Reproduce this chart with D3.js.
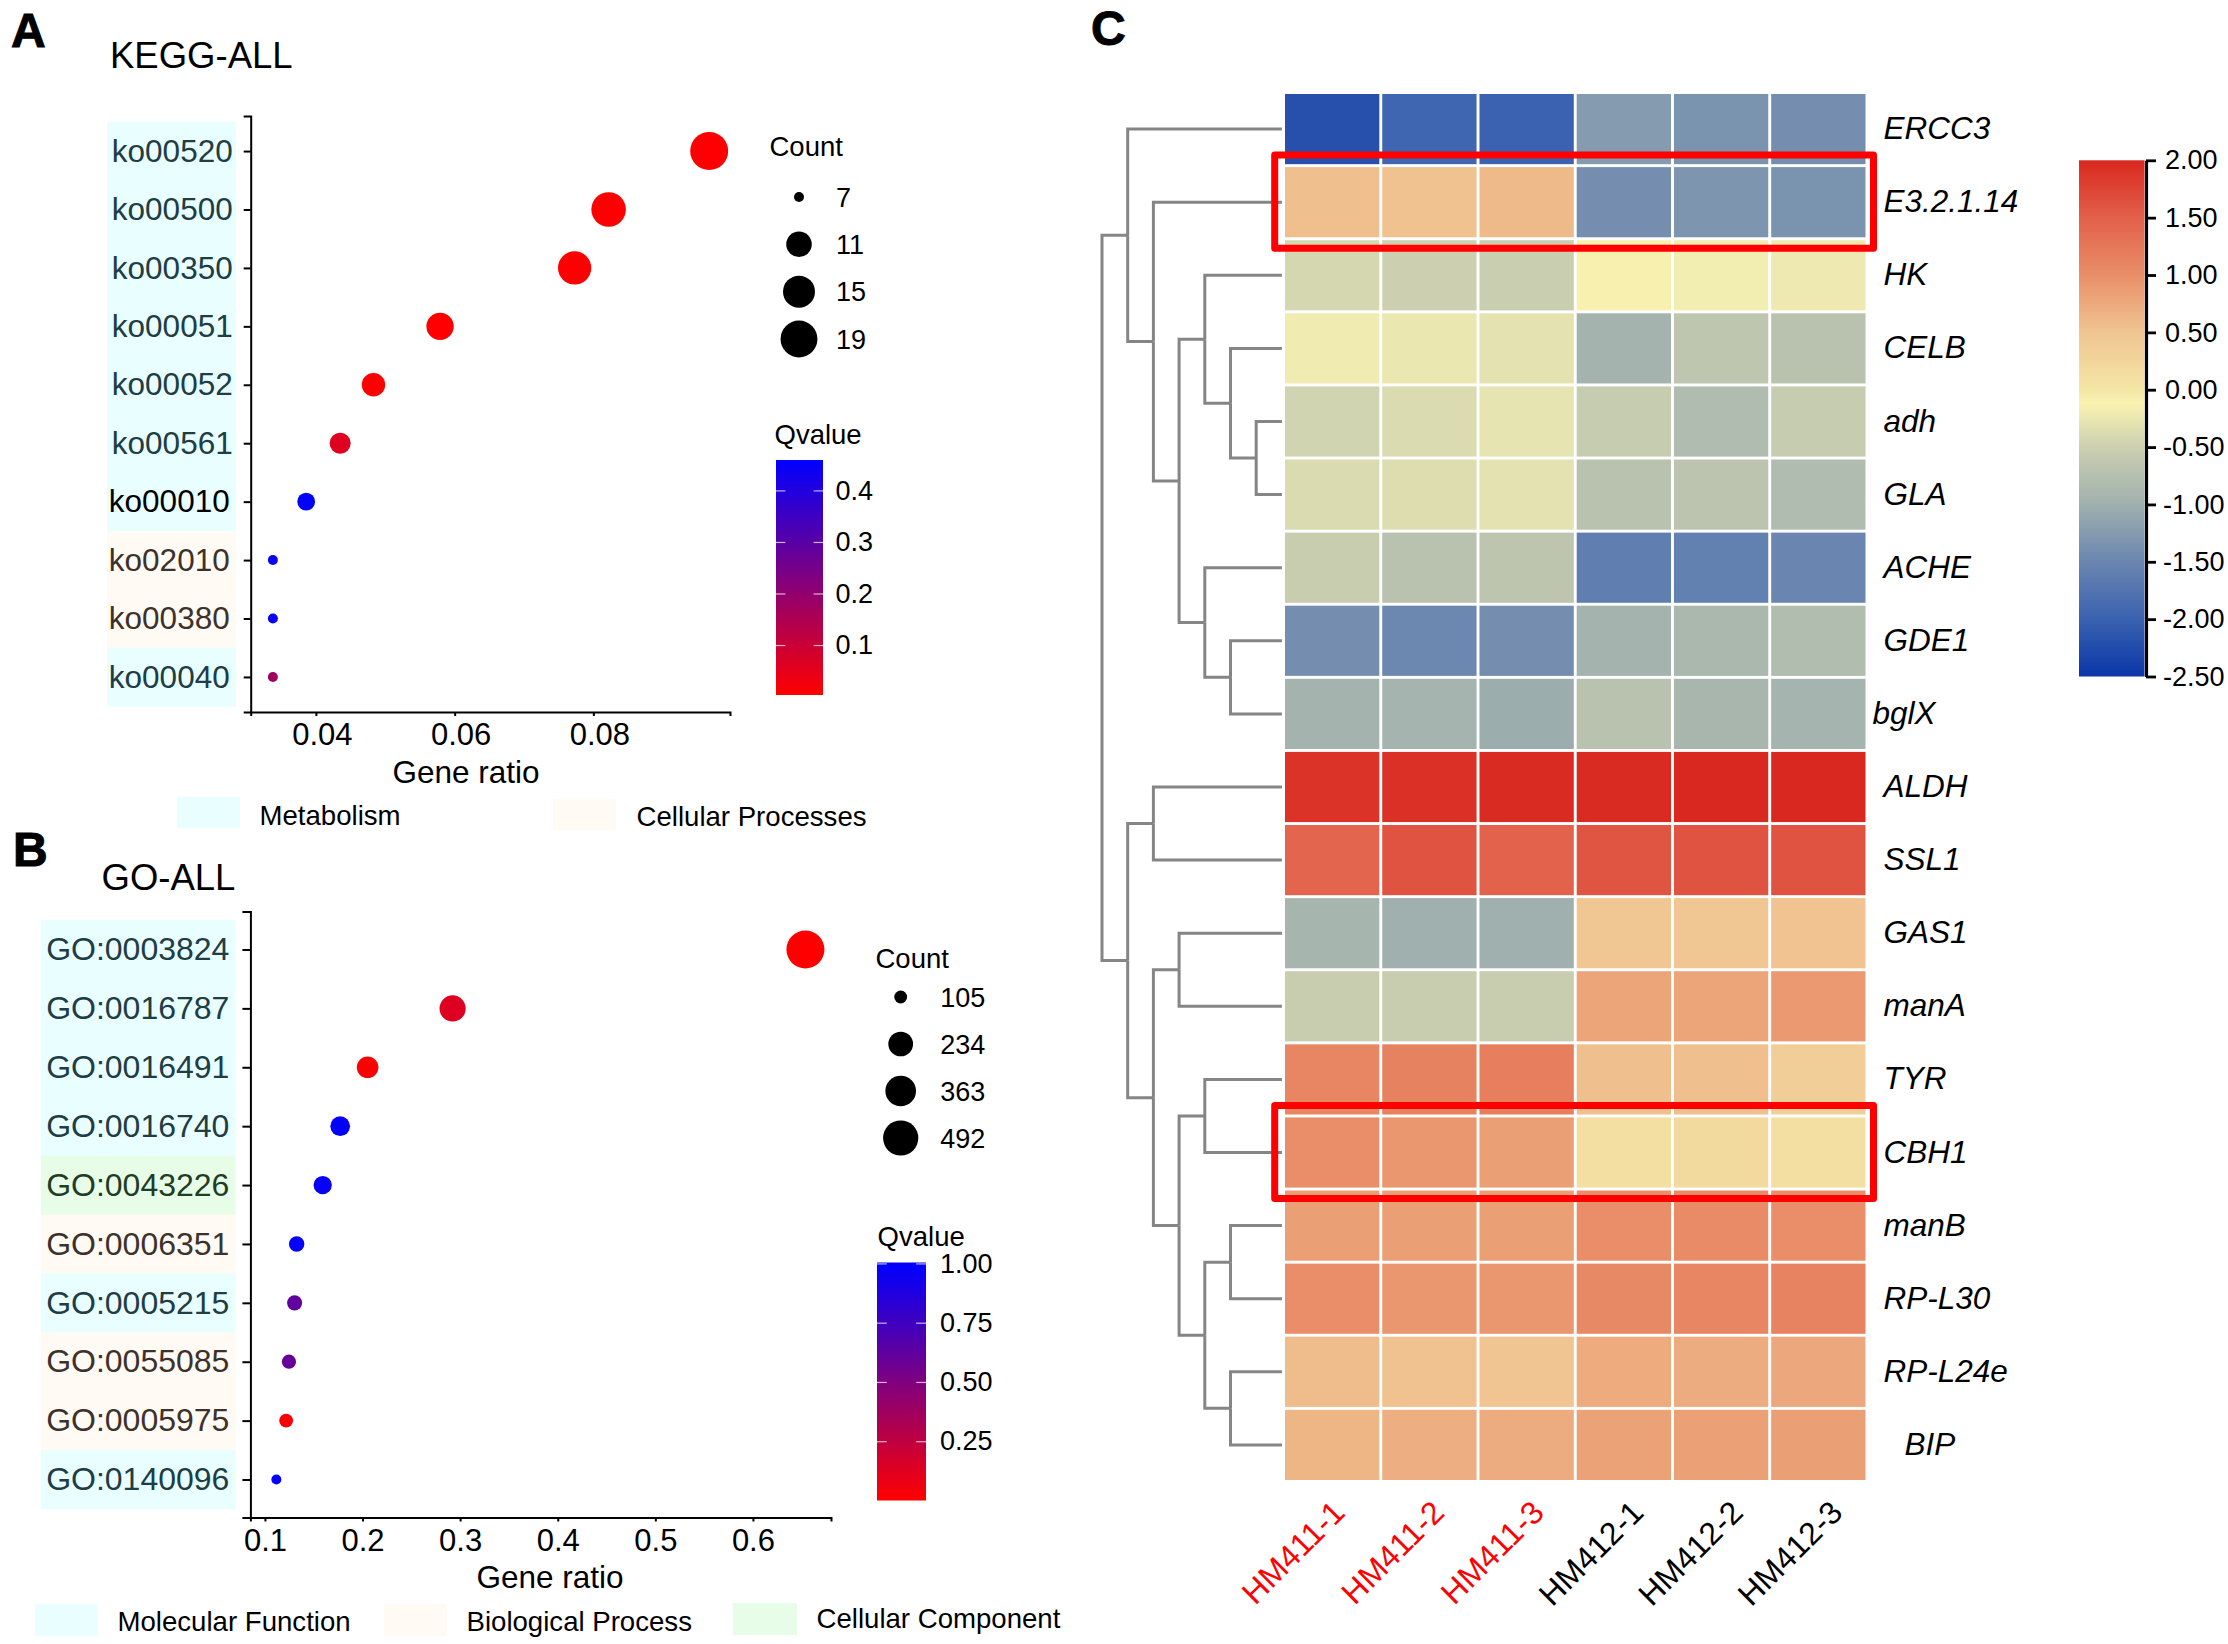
<!DOCTYPE html>
<html>
<head>
<meta charset="utf-8">
<script src="https://cdn.jsdelivr.net/npm/d3@7"></script>
<style>
body { margin: 0; background: #fff; }
text { font-family: "Liberation Sans", Arial, sans-serif; fill: #000; }
</style>
</head>
<body>
<div id="chart"></div>
<script>
// panel A - KEGG
var keggTerms = ["ko00520", "ko00500", "ko00350", "ko00051", "ko00052", "ko00561", "ko00010", "ko02010", "ko00380", "ko00040"];
var keggRatio = [0.0967, 0.0822, 0.0773, 0.0579, 0.0483, 0.0435, 0.0386, 0.0338, 0.0338, 0.0338];
var keggCount = [20, 17, 16, 12, 10, 9, 8, 7, 7, 7];
var keggQ = [0.005, 0.005, 0.005, 0.006, 0.008, 0.06, 0.46, 0.44, 0.44, 0.17];
var keggClass = ["m", "m", "m", "m", "m", "m", "m", "c", "c", "m"];
var keggTicks = [0.04, 0.06, 0.08];
var keggCountLegend = [7, 11, 15, 19];
var keggQTicks = [0.4, 0.3, 0.2, 0.1];

// panel B - GO
var goTerms = ["GO:0003824", "GO:0016787", "GO:0016491", "GO:0016740", "GO:0043226", "GO:0006351", "GO:0005215", "GO:0055085", "GO:0005975", "GO:0140096"];
var goRatio = [0.6538, 0.2923, 0.2052, 0.1771, 0.1592, 0.1325, 0.1304, 0.1246, 0.1217, 0.1117];
var goCount = [583, 261, 183, 158, 142, 118, 116, 111, 109, 100];
var goQ = [0.003, 0.13, 0.01, 0.98, 0.97, 0.98, 0.62, 0.6, 0.02, 0.98];
var goClass = ["m", "m", "m", "m", "g", "b", "m", "b", "b", "m"];
var goTicks = [0.1, 0.2, 0.3, 0.4, 0.5, 0.6];
var goCountLegend = [105, 234, 363, 492];
var goQTicks = [1, 0.75, 0.5, 0.25];

// panel C - heatmap
var genes = ["ERCC3", "E3.2.1.14", "HK", "CELB", "adh", "GLA", "ACHE", "GDE1", "bglX", "ALDH", "SSL1", "GAS1", "manA", "TYR", "CBH1", "manB", "RP-L30", "RP-L24e", "BIP"];
var samples = ["HM411-1", "HM411-2", "HM411-3", "HM412-1", "HM412-2", "HM412-3"];
var redSamples = ["HM411-1", "HM411-2", "HM411-3"];
var boxedGenes = ["E3.2.1.14", "CBH1"];
var expression = [
    [-2.2, -1.95, -2.0, -1.25, -1.35, -1.4],
    [0.55, 0.53, 0.6, -1.4, -1.32, -1.35],
    [-0.42, -0.5, -0.53, -0.1, -0.18, -0.22],
    [-0.2, -0.24, -0.3, -0.95, -0.65, -0.72],
    [-0.46, -0.38, -0.28, -0.57, -0.82, -0.57],
    [-0.38, -0.35, -0.3, -0.72, -0.68, -0.82],
    [-0.55, -0.72, -0.67, -1.6, -1.58, -1.5],
    [-1.4, -1.48, -1.4, -0.95, -0.88, -0.8],
    [-0.95, -0.93, -1.03, -0.72, -0.9, -0.93],
    [1.9, 1.93, 1.97, 1.97, 2.0, 2.0],
    [1.45, 1.62, 1.48, 1.6, 1.62, 1.62],
    [-0.92, -1.0, -1.0, 0.47, 0.47, 0.52],
    [-0.55, -0.55, -0.55, 0.8, 0.8, 0.9],
    [1.1, 1.13, 1.17, 0.55, 0.55, 0.37],
    [1.0, 0.92, 0.85, 0.1, 0.2, 0.1],
    [0.85, 0.85, 0.85, 1.0, 1.03, 1.0],
    [1.0, 0.93, 0.92, 1.05, 1.1, 1.12],
    [0.58, 0.53, 0.5, 0.74, 0.73, 0.76],
    [0.65, 0.7, 0.73, 0.82, 0.84, 0.85]
];
var heatStops = [-2.5, -2, -1.5, -1, -0.5, -0.12, 0, 0.5, 1, 1.5, 2];
var heatColors = ["#0a36a8", "#3a62b0", "#6a86b0", "#9fb0ae", "#ccd0b0", "#f9f2b0", "#f4e6a5", "#f0c592", "#e98e68", "#e2604a", "#d9281f"];
var heatTicks = [2, 1.5, 1, 0.5, 0, -0.5, -1, -1.5, -2, -2.5];
// row dendrogram, leaves in row order
var rowTree = [
    ["ERCC3", ["E3.2.1.14", [["HK", ["CELB", ["adh", "GLA"]]], ["ACHE", ["GDE1", "bglX"]]]]],
    [["ALDH", "SSL1"], [["GAS1", "manA"], [["TYR", "CBH1"], [["manB", "RP-L30"], ["RP-L24e", "BIP"]]]]]
];

var classFill = { m: "#e8feff", c: "#fffaf3", b: "#fffaf3", g: "#e8fde8" };
var classText = { m: "#203c44", c: "#3d322b", b: "#3d322b", g: "#1f3d24" };

var svg = d3.select("#chart").append("svg")
    .attr("width", 2228)
    .attr("height", 1644);

function addText(str, x, y, size, extra) {
    var t = svg.append("text").attr("x", x).attr("y", y).attr("font-size", size).text(str);
    if (extra) t.attr("font-weight", extra);
    return t;
}

// size legend in ggplot works on area, so rescale first then take sqrt
function sizeScale(domain, range) {
    var t = d3.scaleLinear().domain(domain).range([0, 1]);
    var s = d3.scaleSqrt().domain([0, 1]).range(range);
    return function (n) { return s(t(n)); };
}

function dotPanel(p) {
    var x = d3.scaleLinear().domain(p.xDomain).range(p.xRange);
    var y = d3.scalePoint().domain(p.terms).range(p.yRange).padding(p.yPadding);
    var q = d3.scaleLinear().domain(p.qDomain).range(["#ff0000", "#0000ff"]);
    var r = sizeScale(p.countDomain, [5, 19]);
    var step = y.step();

    // coloured band behind the term labels
    svg.append("g").selectAll("rect")
        .data(p.terms)
        .enter().append("rect")
        .attr("x", p.bandX[0])
        .attr("width", p.bandX[1] - p.bandX[0])
        .attr("y", function (d) { return y(d) - step / 2; })
        .attr("height", step + 0.5)
        .attr("fill", function (d, i) { return classFill[p.classes[i]]; });

    var yAxis = svg.append("g")
        .attr("transform", "translate(" + x.range()[0] + ",0)")
        .call(d3.axisLeft(y).tickSizeOuter(0).tickSize(p.yTick).tickPadding(p.yPad));
    yAxis.selectAll("text")
        .attr("font-size", p.yFont)
        .style("fill", function (d, i) { return d === "ko00010" ? "#000" : classText[p.classes[i]]; })
        .attr("dx", function (d) { return p.shifted.indexOf(d) >= 0 ? -3 : 0; });

    var xAxis = svg.append("g")
        .attr("transform", "translate(0," + y.range()[1] + ")")
        .call(d3.axisBottom(x).tickValues(p.ticks).tickSizeOuter(0).tickSize(4).tickPadding(7).tickFormat(d3.format(p.tickFormat)));
    xAxis.selectAll("text").attr("font-size", 31).attr("dx", p.xLabelShift);

    [yAxis, xAxis].forEach(function (a) {
        a.select(".domain").attr("stroke", "#000").attr("stroke-width", 2);
        a.selectAll(".tick line").attr("stroke", "#000").attr("stroke-width", 2);
    });

    svg.append("g").selectAll("circle")
        .data(p.terms)
        .enter().append("circle")
        .attr("cx", function (d, i) { return x(p.ratio[i]); })
        .attr("cy", function (d) { return y(d); })
        .attr("r", function (d, i) { return r(p.count[i]); })
        .attr("fill", function (d, i) { return q(p.q[i]); });

    addText(p.title, p.titleXY[0], p.titleXY[1], 36.5);
    addText("Gene ratio", p.xTitleXY[0], p.xTitleXY[1], 31.5).attr("text-anchor", "middle");

    // count legend
    addText("Count", p.countTitle[0], p.countTitle[1], 27.5);
    var countY = d3.scalePoint().domain(p.countLegend).range(p.countYRange);
    var cl = svg.append("g").selectAll("g")
        .data(p.countLegend)
        .enter().append("g")
        .attr("transform", function (d) { return "translate(" + p.countX + "," + countY(d) + ")"; });
    cl.append("circle").attr("r", r).attr("fill", "#000");
    cl.append("text").attr("x", p.countLabelX).attr("dy", "0.36em").attr("font-size", 27).text(String);

    // q value colour bar
    addText("Qvalue", p.qTitle[0], p.qTitle[1], 27.5);
    var barY = d3.scaleLinear().domain(p.barDomain).range(p.barRange);
    var gradId = "grad" + p.title.slice(0, 2);
    var grad = svg.append("defs").append("linearGradient")
        .attr("id", gradId).attr("x1", 0).attr("x2", 0).attr("y1", 1).attr("y2", 0);
    d3.range(0, 1.0001, 0.05).forEach(function (f) {
        grad.append("stop").attr("offset", f)
            .attr("stop-color", q(p.barDomain[0] + f * (p.barDomain[1] - p.barDomain[0])));
    });
    svg.append("rect")
        .attr("x", p.barX[0]).attr("width", p.barX[1] - p.barX[0])
        .attr("y", p.barRange[1]).attr("height", p.barRange[0] - p.barRange[1])
        .attr("fill", "url(#" + gradId + ")");
    var w = p.barX[1] - p.barX[0];
    p.qTicks.forEach(function (v) {
        [[p.barX[0], p.barX[0] + w / 5], [p.barX[1] - w / 5, p.barX[1]]].forEach(function (seg) {
            svg.append("line")
                .attr("x1", seg[0]).attr("x2", seg[1])
                .attr("y1", barY(v)).attr("y2", barY(v))
                .attr("stroke", "#fff").attr("stroke-opacity", 0.7).attr("stroke-width", 1.2);
        });
        addText(d3.format(p.qFormat)(v), p.barLabelX, barY(v), 27).attr("dy", "0.32em");
    });
}

// A
dotPanel({
    title: "KEGG-ALL", titleXY: [110, 68], xTitleXY: [466, 783],
    terms: keggTerms, ratio: keggRatio, count: keggCount, q: keggQ, classes: keggClass,
    shifted: ["ko00010", "ko02010", "ko00380", "ko00040"],
    xDomain: [0.0306, 0.0997], xRange: [250.7, 730], yRange: [116, 712], yPadding: 0.6,
    ticks: keggTicks, tickFormat: ".2f", xLabelShift: 6,
    qDomain: [0.004, 0.46], countDomain: [7, 20],
    bandX: [107, 236], yTick: 7, yPad: 11, yFont: 31.5,
    countTitle: [769.5, 156], countLegend: keggCountLegend, countX: 799, countLabelX: 37, countYRange: [197, 339],
    qTitle: [774.5, 444], barX: [776, 823], barRange: [695, 460], barDomain: [0.004, 0.46],
    qTicks: keggQTicks, qFormat: ".1f", barLabelX: 835.5
});
// B
dotPanel({
    title: "GO-ALL", titleXY: [101.5, 890], xTitleXY: [550, 1588],
    terms: goTerms, ratio: goRatio, count: goCount, q: goQ, classes: goClass,
    shifted: [],
    xDomain: [0.0851, 0.68], xRange: [250.4, 831], yRange: [911.5, 1517.5], yPadding: 0.645,
    ticks: goTicks, tickFormat: ".1f", xLabelShift: 0,
    qDomain: [0.002, 1], countDomain: [100, 583],
    bandX: [40.7, 235.7], yTick: 8, yPad: 13, yFont: 32,
    countTitle: [875.5, 968], countLegend: goCountLegend, countX: 900.7, countLabelX: 39.5, countYRange: [997, 1138],
    qTitle: [877.6, 1245.7], barX: [877, 926], barRange: [1500.5, 1262.5], barDomain: [0.002, 1.006],
    qTicks: goQTicks, qFormat: ".2f", barLabelX: 940
});

// category legends under the dot panels
function swatch(x, y, w, h, cls, label, tx, ty) {
    svg.append("rect").attr("x", x).attr("y", y).attr("width", w).attr("height", h).attr("fill", classFill[cls]);
    addText(label, tx, ty, 27.6);
}
swatch(177, 797, 63, 31, "m", "Metabolism", 259.5, 825);
swatch(553, 799, 63, 31, "c", "Cellular Processes", 636.5, 826);
swatch(35, 1604, 63, 32, "m", "Molecular Function", 117.5, 1631);
swatch(384, 1604, 63, 32, "b", "Biological Process", 466.5, 1631);
swatch(733, 1603, 64, 32, "g", "Cellular Component", 816.5, 1628);

// panel letters
[["A", 11, 47], ["B", 13, 866], ["C", 1091, 45]].forEach(function (l) {
    addText(l[0], l[1], l[2], 48, "bold").attr("stroke", "#000").attr("stroke-width", 1);
});

// C - heatmap
var xHeat = d3.scaleBand().domain(samples).range([1285, 1865.5]).paddingInner(0.03);
var yHeat = d3.scaleBand().domain(genes).range([94, 1480]).paddingInner(0.04);
var heatColor = d3.scaleLinear().domain(heatStops).range(heatColors);

var cells = [];
genes.forEach(function (g, i) {
    samples.forEach(function (s, j) {
        cells.push({ gene: g, sample: s, value: expression[i][j] });
    });
});
svg.append("g").selectAll("rect")
    .data(cells)
    .enter().append("rect")
    .attr("x", function (d) { return xHeat(d.sample); })
    .attr("y", function (d) { return yHeat(d.gene); })
    .attr("width", xHeat.bandwidth())
    .attr("height", yHeat.bandwidth())
    .attr("fill", function (d) { return heatColor(d.value); });

// dendrogram
var root = d3.hierarchy(rowTree, function (d) { return Array.isArray(d) ? d : null; });
var depthX = d3.scaleLinear().domain([0, 7]).range([1102, 1281.9]);
root.eachAfter(function (n) {
    if (n.children) {
        n.py = d3.mean(n.children, function (c) { return c.py; });
        n.px = depthX(n.depth);
    } else {
        n.py = yHeat(n.data) + yHeat.bandwidth() / 2;
        n.px = depthX(7);
    }
});
svg.append("g").selectAll("path")
    .data(root.links())
    .enter().append("path")
    .attr("d", function (l) { return "M" + l.source.px + "," + l.source.py + "V" + l.target.py + "H" + l.target.px; })
    .attr("fill", "none")
    .attr("stroke", "#858585")
    .attr("stroke-width", 3);

// row labels
var rowAxis = svg.append("g")
    .attr("transform", "translate(1865.5,0)")
    .call(d3.axisRight(yHeat).tickSize(0).tickPadding(18));
rowAxis.select(".domain").remove();
rowAxis.selectAll("text")
    .attr("font-size", 31.5)
    .attr("font-style", "italic")
    .attr("dx", function (d) { return d === "bglX" ? -11 : d === "BIP" ? 21 : 0; });

// column labels, spaced a little wider than the cells as in the figure
var colAxis = svg.append("g")
    .attr("transform", "translate(0,1480)")
    .call(d3.axisBottom(xHeat).tickSize(0));
colAxis.select(".domain").remove();
colAxis.selectAll("text")
    .attr("font-size", 32)
    .attr("y", 0).attr("dy", 0)
    .attr("text-anchor", "end")
    .attr("transform", function (d, i) { return "translate(" + (14.5 + i * 2.3) + ",34.5) rotate(-45)"; })
    .style("fill", function (d) { return redSamples.indexOf(d) >= 0 ? "#ff0000" : "#000"; });

// red boxes round the marked genes
svg.append("g").selectAll("rect")
    .data(boxedGenes)
    .enter().append("rect")
    .attr("x", 1274.7)
    .attr("width", 598.8)
    .attr("y", function (d) { return yHeat(d) - 12; })
    .attr("height", yHeat.bandwidth() + 23)
    .attr("fill", "none")
    .attr("stroke", "#ff0000")
    .attr("stroke-width", 7)
    .attr("stroke-linejoin", "round");

// heat colour bar
var heatBarY = d3.scaleLinear().domain([2, -2.5]).range([160.3, 676.5]);
var heatGrad = svg.append("defs").append("linearGradient")
    .attr("id", "heatGrad").attr("x1", 0).attr("x2", 0).attr("y1", 0).attr("y2", 1);
heatStops.slice().reverse().forEach(function (v) {
    heatGrad.append("stop")
        .attr("offset", (2 - v) / 4.5)
        .attr("stop-color", heatColor(v));
});
svg.append("rect")
    .attr("x", 2079).attr("width", 65.5)
    .attr("y", 160.3).attr("height", 516.2)
    .attr("fill", "url(#heatGrad)");
var heatAxis = svg.append("g")
    .attr("transform", "translate(2146,0)")
    .call(d3.axisRight(heatBarY).tickValues(heatTicks).tickSize(10).tickPadding(7).tickSizeOuter(0)
        .tickFormat(function (d) { return d.toFixed(2); }));
heatAxis.select(".domain").attr("stroke", "#000").attr("stroke-width", 3.2);
heatAxis.selectAll(".tick line").attr("stroke", "#000").attr("stroke-width", 2.8);
heatAxis.selectAll("text")
    .attr("font-size", 27)
    .attr("dx", function (d) { return d < 0 ? 0 : 2; });
</script>
</body>
</html>
